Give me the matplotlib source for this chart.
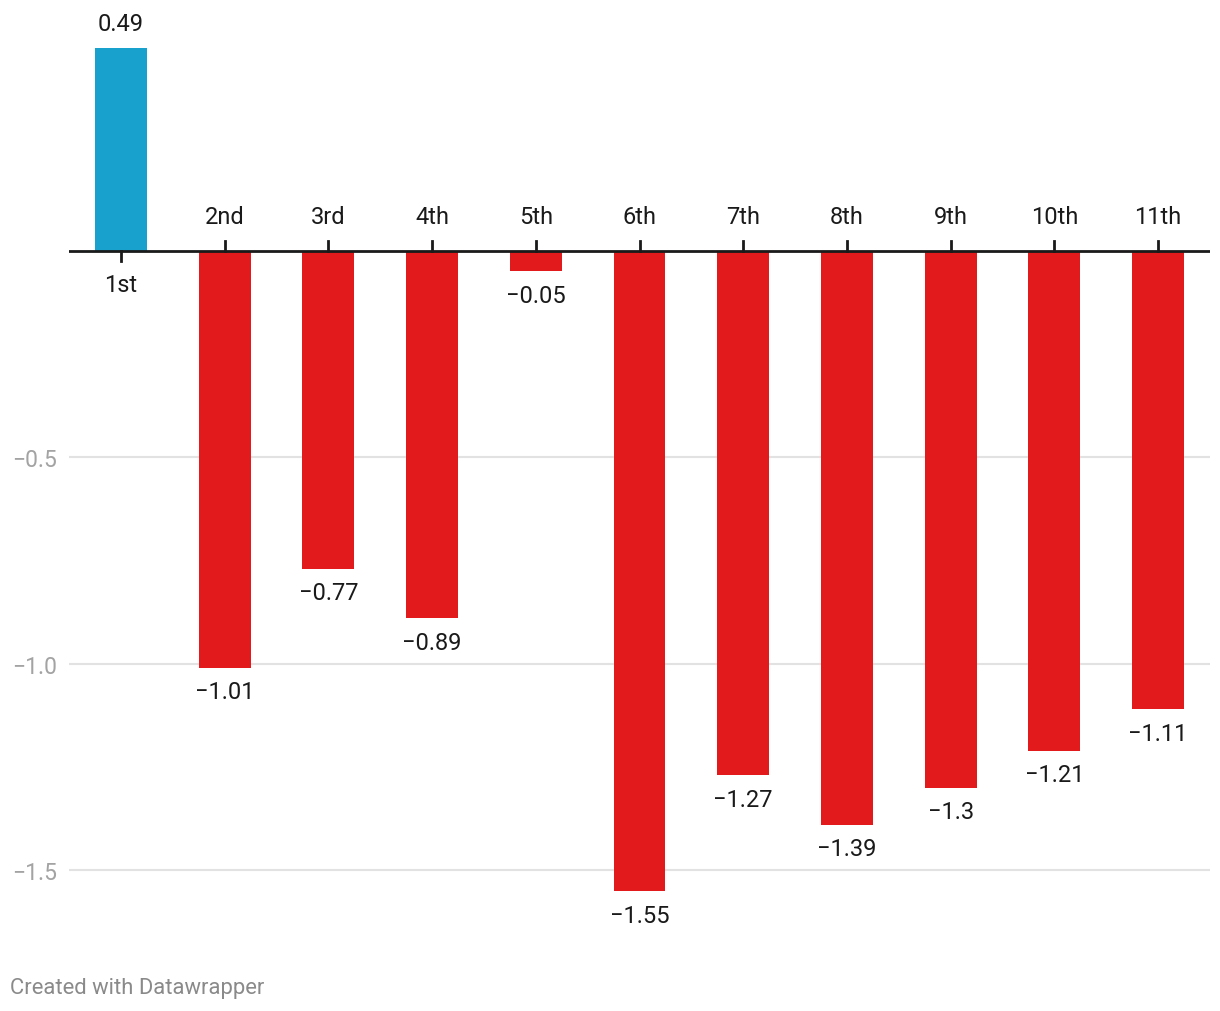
import matplotlib
matplotlib.use("Agg")
import numpy as np
from matplotlib import pyplot as plt

categories = ["1st", "2nd", "3rd", "4th", "5th", "6th", "7th", "8th", "9th", "10th", "11th"]
values = [0.49, -1.01, -0.77, -0.89, -0.05, -1.55, -1.27, -1.39, -1.3, -1.21, -1.11]
y_ticks = [-0.5, -1.0, -1.5]
y_tick_labels = ["\u22120.5", "\u22121.0", "\u22121.5"]

BLUE = "#18a1cd"
RED = "#e31a1c"

plt.rcParams['font.family'] = ['Roboto', 'DejaVu Sans']

W, H = 1220, 1012
fig = plt.figure(figsize=(W / 100, H / 100), dpi=100)

# axes placed in pixel coords: x 69..1210, y 20..930 (zero line at ~y=251)
px_per_unit = 413.3
top_px, bot_px, zero_px = 20, 930, 251.5
ax = fig.add_axes([69 / W, 1 - bot_px / H, (1210 - 69) / W, (bot_px - top_px) / H])
ax.set_xlim(-0.5, len(categories) - 0.5)
ax.set_ylim(-(bot_px - zero_px) / px_per_unit, (zero_px - top_px) / px_per_unit)

xs = np.arange(len(categories))
colors = [BLUE if v >= 0 else RED for v in values]
ax.bar(xs, values, width=0.5, color=colors, zorder=2)

# grid lines
for t in y_ticks:
    ax.axhline(t, color="#e2e2e2", lw=1.5, zorder=1)
ax.axhline(0, color="#1a1a1a", lw=2, zorder=3)

for s in ax.spines.values():
    s.set_visible(False)
ax.set_xticks([])
ax.set_yticks(y_ticks)
ax.set_yticklabels(y_tick_labels, color="#a3a3a3", fontsize=16.5)
ax.tick_params(axis="y", length=0, pad=8.5)

k = 72 / 100  # px -> points
for x, v, c in zip(xs, values, categories):
    txt = f"{v:g}".replace("-", "\u2212")
    if v >= 0:
        ax.annotate(txt, (x, v), xytext=(0, 24 * k), textcoords="offset points",
                    ha="center", va="center", fontsize=17, color="#1a1a1a")
        ax.annotate(c, (x, 0), xytext=(0, -34 * k), textcoords="offset points",
                    ha="center", va="center", fontsize=17, color="#1a1a1a")
        ax.plot([x, x], [0, -10 / px_per_unit], color="#1a1a1a", lw=2, zorder=3)
    else:
        ax.annotate(txt, (x, v), xytext=(0, -24 * k), textcoords="offset points",
                    ha="center", va="center", fontsize=17, color="#1a1a1a")
        ax.annotate(c, (x, 0), xytext=(0, 34 * k), textcoords="offset points",
                    ha="center", va="center", fontsize=17, color="#1a1a1a")
        ax.plot([x, x], [0, 10 / px_per_unit], color="#1a1a1a", lw=2, zorder=3)

fig.text(10 / W, 1 - 989 / H, "Created with Datawrapper", ha="left", va="center",
         fontsize=15.8, color="#8a8a8a")

fig.savefig("out.png", dpi=100)
